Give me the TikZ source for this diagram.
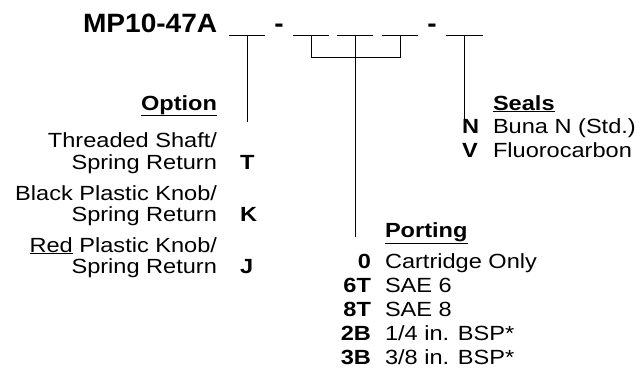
\documentclass[tikz,border=0pt]{standalone}
\usepackage{fontspec}
\setmainfont{Liberation Sans}[FakeStretch=1.15]
\newfontfamily\titlefont{Liberation Sans}[FakeStretch=1.06]
\usetikzlibrary{positioning}

\begin{document}
\begin{tikzpicture}[x=1pt,y=-1pt,
  every node/.style={inner sep=0pt,outer sep=0pt},
  txt/.style={font=\fontsize{20.5}{24}\selectfont},
  code/.style={font=\fontsize{20.5}{24}\selectfont\bfseries},
  head/.style={font=\fontsize{20.5}{24}\selectfont\bfseries},
  ttl/.style={font=\titlefont\bfseries\fontsize{26.5}{30}\selectfont},
  conn/.style={line width=1pt}]
\useasboundingbox (0,0) rectangle (639,384);

% part number with its blanks
\node[ttl, anchor=base west] (title) at (83,32) {MP10-47A};
\node[ttl, anchor=base] (dash1) at (279,32) {-};
\node[ttl, anchor=base] (dash2) at (432,32) {-};
\foreach \n/\xa/\xb in {b1/229/265, b2/293/329, b3/337/373, b4/382/418, b5/446/483} {
  \coordinate (\n w) at (\xa,35.7);
  \coordinate (\n e) at (\xb,35.7);
  \coordinate (\n) at ({(\xa+\xb)/2},35.7);
  \draw[conn] (\n w) -- (\n e);
}

% leaders
\coordinate (optend) at (247,122);
\coordinate (brk) at (355,57);
\coordinate (portend) at (355,237);
\coordinate (sealend) at (464.5,119);
\draw[conn] (b1) -- (b1 |- optend);
\draw[conn] (b2) -- (b2 |- brk) -- (b4 |- brk) -- (b4);
\draw[conn] (b3) -- (b3 |- portend);
\draw[conn] (b5) -- (b5 |- sealend);

% option
\node[head, anchor=base east] (opthead) at (217,110) {\underline{Option}};
\node[txt, anchor=base east] (opt1a) at (217,147) {Threaded Shaft/};
\node[txt, anchor=base east] (opt1b) at (217,169) {Spring Return};
\node[code, anchor=base west] (optT) at (240,169) {T};
\node[txt, anchor=base east] (opt2a) at (217,200) {Black Plastic Knob/};
\node[txt, anchor=base east] (opt2b) at (217,221) {Spring Return};
\node[code, anchor=base west] (optK) at (240,221) {K};
\node[txt, anchor=base east] (opt3a) at (217,252) {\underline{Red} Plastic Knob/};
\node[txt, anchor=base east] (opt3b) at (217,273) {Spring Return};
\node[code, anchor=base west] (optJ) at (240,273) {J};

% seals
\node[head, anchor=base west] (sealhead) at (493,110) {\underline{Seals}};
\node[code, anchor=base west] (sealN) at (462,133) {N};
\node[txt, anchor=base west] (sealNt) at (493,133) {Buna N (Std.)};
\node[code, anchor=base west] (sealV) at (462,157) {V};
\node[txt, anchor=base west] (sealVt) at (493,157) {Fluorocarbon};

% porting
\node[head, anchor=base west] (porthead) at (385,237) {\underline{Porting}};
\foreach \c/\t/\y in {0/Cartridge Only/268, 6T/SAE 6/292, 8T/SAE 8/316, 2B/1\slash4 in. BSP*/340, 3B/3\slash8 in. BSP*/364} {
  \node[code, anchor=base east] (port\c) at (371,\y) {\c};
  \node[txt, anchor=base west] (port\c t) at (385,\y) {\t};
}
\end{tikzpicture}
\end{document}
